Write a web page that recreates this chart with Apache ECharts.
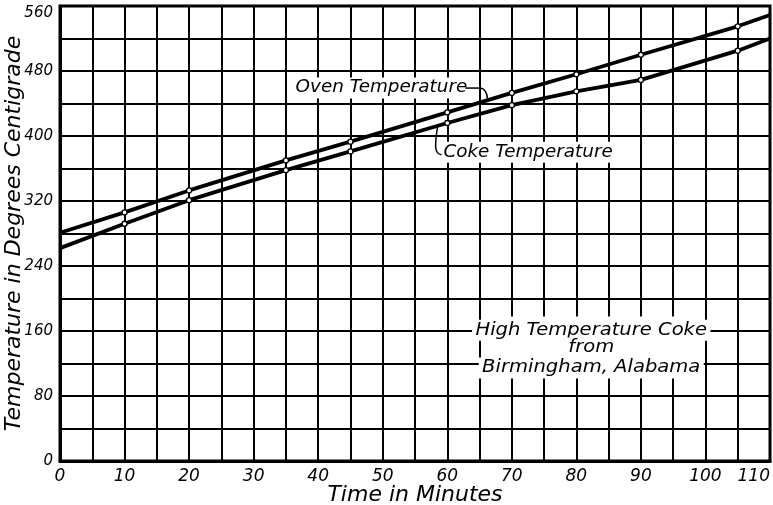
<!DOCTYPE html>
<html><head><meta charset="utf-8">
<script src="https://cdn.jsdelivr.net/npm/echarts@6/dist/echarts.min.js"></script>
<style>html,body{margin:0;padding:0;background:#fff}#c{width:773px;height:505px}</style>
</head><body><div id="c"></div>
<script>
const minutes = [0, 10, 20, 35, 45, 60, 70, 80, 90, 105, 110];
const ovenTemp = [281, 306, 333, 370, 393, 429, 453, 476, 500, 535, 549];
const cokeTemp = [262, 292, 321, 358, 381, 416, 438, 455, 469, 505, 520];
const xTickLabels = [0, 10, 20, 30, 40, 50, 60, 70, 80, 90, 100, 110];
const yTickLabels = [0, 80, 160, 240, 320, 400, 480, 560];
const boxLines = ['High Temperature Coke', 'from', 'Birmingham, Alabama'];

const FONT = 'DejaVu Sans';
const chart = echarts.init(document.getElementById('c'));
const last = minutes.length - 1;
function mk(vals) {
  return minutes.map((m, i) => ({
    value: [m, vals[i]],
    symbol: (i === 0 || i === last) ? 'none' : 'circle'
  }));
}
const lineSeries = (name, vals) => ({
  name, type: 'line', data: mk(vals), z: 5,
  symbolSize: 5, showAllSymbol: true,
  lineStyle: { color: '#000', width: 3.8 },
  itemStyle: { color: '#fff', borderColor: '#000', borderWidth: 1.3 }
});
chart.setOption({
  animation: false,
  backgroundColor: '#fff',
  grid: { left: 60, right: 3, top: 6, bottom: 44, containLabel: false, outerBoundsMode: 'none',
    show: true, borderColor: '#000', borderWidth: 3, backgroundColor: 'transparent' },
  xAxis: {
    type: 'value', min: 0, max: 110, interval: 5,
    name: 'Time in Minutes', nameLocation: 'middle', nameGap: 23, nameMoveOverlap: false,
    nameTextStyle: { fontFamily: FONT, fontStyle: 'italic', fontSize: 22, color: '#000' },
    axisLine: { show: true, lineStyle: { color: '#000', width: 3 } },
    axisTick: { show: false },
    splitLine: { show: true, lineStyle: { color: '#000', width: 2 } },
    axisLabel: {
      fontFamily: FONT, fontStyle: 'italic', fontSize: 17, color: '#000', margin: 7,
      alignMaxLabel: 'right',
      formatter: v => xTickLabels.includes(v) ? String(v) : ''
    }
  },
  yAxis: {
    type: 'value', min: 0, max: 560, interval: 40,
    name: 'Temperature in Degrees Centigrade', nameLocation: 'middle', nameGap: 35, nameMoveOverlap: false,
    nameTextStyle: { fontFamily: FONT, fontStyle: 'italic', fontSize: 22, color: '#000' },
    axisLine: { show: true, lineStyle: { color: '#000', width: 3 } },
    axisTick: { show: false },
    splitLine: { show: true, lineStyle: { color: '#000', width: 2 } },
    axisLabel: {
      fontFamily: FONT, fontStyle: 'italic', fontSize: 15, color: '#000', margin: 7,
      verticalAlignMaxLabel: 'top',
      formatter: v => yTickLabels.includes(v) ? String(v) : ''
    }
  },
  series: [lineSeries('Oven Temperature', ovenTemp), lineSeries('Coke Temperature', cokeTemp)]
});

function px(x, y) { return chart.convertToPixel({ gridIndex: 0 }, [x, y]); }
const txt = (p, text, align, sx) => ({
  type: 'text', z: 50, x: p[0], y: p[1], scaleX: sx,
  style: { text, fontFamily: FONT, fontStyle: 'italic', fontSize: 17, fill: '#000',
    align: align || 'left', verticalAlign: 'middle', backgroundColor: '#fff', padding: [2, 3] }
});
const stroke = { stroke: '#000', lineWidth: 1.5, fill: null };
const oT = px(36.0, 459), cT = px(58.9, 380);
const oA = px(62.8, 459), oB = px(66.2, 446);
const cA = px(59.1, 377), cB = px(58.5, 412);
const b1 = px(65.4, 178), b2 = px(99.6, 106);
const g = [
  { type: 'rect', z: 40, shape: { x: b1[0], y: b1[1], width: b2[0] - b1[0], height: b2[1] - b1[1] }, style: { fill: '#fff' } },
  txt(oT, 'Oven Temperature', 'left', 1.08),
  txt(cT, 'Coke Temperature', 'left', 1.08),
  { type: 'line', z: 51, shape: { x1: oA[0], y1: oA[1], x2: oB[0] - 8, y2: oA[1] }, style: stroke },
  { type: 'bezierCurve', z: 51, shape: { x1: oB[0] - 8, y1: oA[1], cpx1: oB[0] - 2, cpy1: oA[1], cpx2: oB[0], cpy2: oA[1] + 6, x2: oB[0], y2: oB[1] }, style: stroke },
  { type: 'bezierCurve', z: 51, shape: { x1: cA[0], y1: cA[1], cpx1: cA[0] - 7, cpy1: cA[1] - 1, cpx2: cA[0] - 7, cpy2: cA[1] - 8, x2: cB[0], y2: cB[1] }, style: stroke }
];
const ys = [161, 139, 114.5];
boxLines.forEach((t, i) => { g.push(txt(px(82.3, ys[i]), t, 'center', 1.15)); });
chart.setOption({ graphic: g });
</script></body></html>
